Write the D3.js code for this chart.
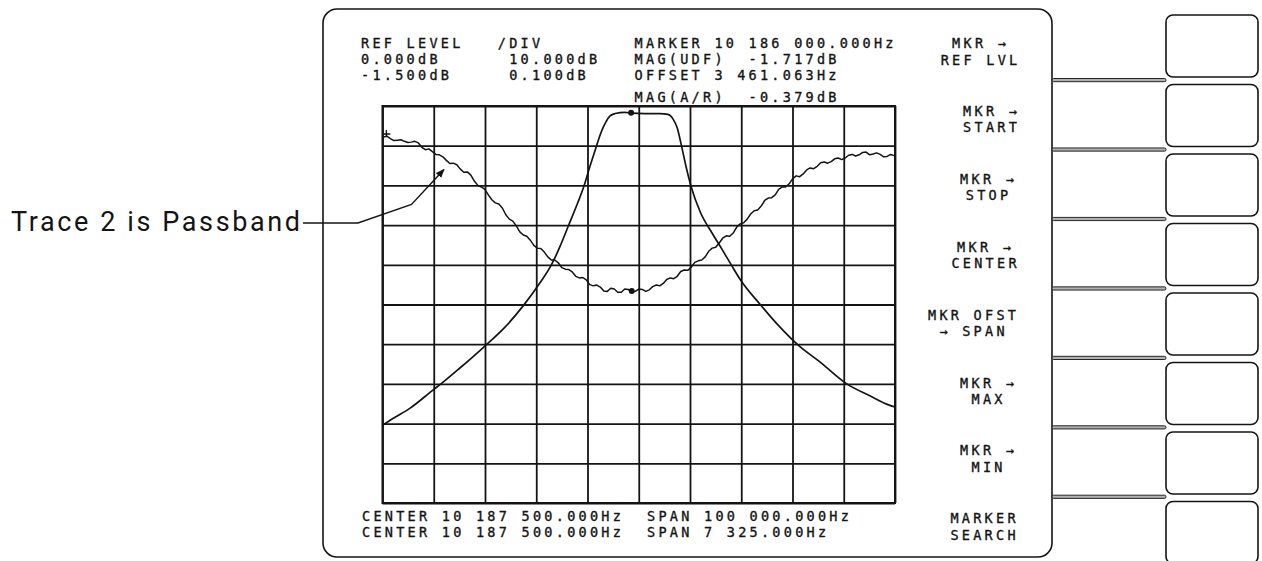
<!DOCTYPE html>
<html><head><meta charset="utf-8">
<script src="https://cdn.jsdelivr.net/npm/d3@7"></script>
<style>
html,body{margin:0;padding:0;background:#fff;}
svg{display:block;}
.mono{font-family:'DejaVu Sans Mono',monospace;font-size:13.5px;letter-spacing:3.27px;fill:#141414;stroke:#141414;stroke-width:0.35px;white-space:pre;}
</style>
</head><body>
<svg id="c" width="1262" height="561"></svg>
<script>
// ---------- DATA ----------
// Trace 1: wide sweep (center 10 187 500 Hz, span 100 kHz, ref 0 dB, 10 dB/div)
const trace1OffsetKHz = [-50.0,-47.8,-44.6,-40.1,-38.6,-34.9,-30.4,-26.1,-22.4,-19.3,-17.0,-15.4,-13.7,-12.0,-10.7,-9.5,-8.3,-7.4,-6.4,-5.6,-4.6,-2.7,-1.3,1.2,4.1,5.7,6.7,7.5,8.3,9.2,10.2,12.0,14.3,16.2,18.0,20.0,23.7,27.2,31.0,35.4,40.6,45.1,49.0,50.0];
const trace1MagDB = [-80.4,-78.6,-76.1,-71.5,-70.0,-66.0,-60.9,-55.7,-50.1,-44.6,-39.9,-35.5,-30.1,-24.7,-20.2,-15.1,-10.3,-6.8,-4.0,-2.5,-1.9,-1.6,-1.8,-1.9,-1.9,-2.1,-3.3,-5.5,-9.8,-15.1,-20.2,-26.7,-32.0,-36.0,-39.9,-44.1,-50.0,-55.2,-60.1,-64.5,-70.0,-73.0,-75.4,-75.8];
// Trace 2: passband (center 10 187 500 Hz, span 7 325 Hz, ref -1.5 dB, 0.1 dB/div)
const trace2OffsetHz = [-3650,-3600,-3550,-3500,-3450,-3400,-3350,-3300,-3250,-3200,-3150,-3100,-3050,-3000,-2950,-2900,-2850,-2800,-2750,-2700,-2650,-2600,-2550,-2500,-2450,-2400,-2350,-2300,-2250,-2200,-2150,-2100,-2050,-2000,-1950,-1900,-1850,-1800,-1750,-1700,-1650,-1600,-1550,-1500,-1450,-1400,-1350,-1300,-1250,-1200,-1150,-1100,-1050,-1000,-950,-900,-850,-800,-750,-700,-650,-600,-550,-500,-450,-400,-350,-300,-250,-200,-150,-100,-50,0,50,100,150,200,250,300,350,400,450,500,550,600,650,700,750,800,850,900,950,1000,1050,1100,1150,1200,1250,1300,1350,1400,1450,1500,1550,1600,1650,1700,1750,1800,1850,1900,1950,2000,2050,2100,2150,2200,2250,2300,2350,2400,2450,2500,2550,2600,2650,2700,2750,2800,2850,2900,2950,3000,3050,3100,3150,3200,3250,3300,3350,3400,3450,3500,3550,3600,3650];
const trace2MagDB = [-1.578,-1.576,-1.582,-1.587,-1.586,-1.585,-1.589,-1.592,-1.591,-1.589,-1.593,-1.604,-1.610,-1.608,-1.615,-1.622,-1.623,-1.628,-1.637,-1.645,-1.644,-1.648,-1.659,-1.667,-1.666,-1.674,-1.689,-1.700,-1.704,-1.710,-1.724,-1.736,-1.744,-1.747,-1.757,-1.774,-1.785,-1.790,-1.802,-1.817,-1.825,-1.828,-1.838,-1.851,-1.858,-1.859,-1.868,-1.880,-1.888,-1.888,-1.895,-1.907,-1.911,-1.912,-1.918,-1.929,-1.933,-1.932,-1.938,-1.950,-1.953,-1.951,-1.956,-1.966,-1.967,-1.959,-1.961,-1.969,-1.969,-1.961,-1.962,-1.970,-1.967,-1.961,-1.962,-1.967,-1.963,-1.955,-1.951,-1.953,-1.947,-1.937,-1.933,-1.935,-1.929,-1.917,-1.913,-1.914,-1.906,-1.894,-1.890,-1.888,-1.880,-1.866,-1.858,-1.856,-1.845,-1.833,-1.827,-1.828,-1.820,-1.805,-1.797,-1.794,-1.785,-1.772,-1.764,-1.762,-1.752,-1.738,-1.732,-1.731,-1.724,-1.710,-1.704,-1.704,-1.696,-1.683,-1.676,-1.678,-1.671,-1.661,-1.656,-1.658,-1.652,-1.643,-1.641,-1.644,-1.640,-1.633,-1.631,-1.635,-1.631,-1.624,-1.622,-1.626,-1.623,-1.617,-1.616,-1.623,-1.621,-1.618,-1.622,-1.628,-1.627,-1.622,-1.625];
const marker1 = [-1.5, -1.717];     // [kHz offset, dB]
const marker2 = [-100, -1.966];     // [Hz offset, dB]
const trace1Domain = {x:[-50,50], y:[-100,0]};
const trace2Domain = {x:[-3662.5,3662.5], y:[-2.5,-1.5]};
// header / footer text: [row, column, text]
const headerText = [
  [0,0,"REF LEVEL"],[0,12,"/DIV"],[0,24,"MARKER 10 186 000.000Hz"],
  [1,0,"0.000dB"],[1,13,"10.000dB"],[1,24,"MAG(UDF)  -1.717dB"],
  [2,0,"-1.500dB"],[2,13,"0.100dB"],[2,24,"OFFSET 3 461.063Hz"],
  [3,24,"MAG(A/R)  -0.379dB"]
];
const footerText = [
  [0,0,"CENTER 10 187 500.000Hz"],[0,25,"SPAN 100 000.000Hz"],
  [1,0,"CENTER 10 187 500.000Hz"],[1,25,"SPAN 7 325.000Hz"]
];
const softkeyLabels = [
  ["MKR \u2192","REF LVL"],["MKR \u2192","START"],["MKR \u2192","STOP"],["MKR \u2192","CENTER"],
  ["MKR OFST","\u2192 SPAN"],["MKR \u2192","MAX"],["MKR \u2192","MIN"],["MARKER","SEARCH"]
];
const annotationText = "Trace 2 is Passband";

// ---------- LAYOUT ----------
const svg = d3.select("#c");
const ink = "#141414";
const G = {x0:382.5, x1:895, y0:106, y1:503};
const charW = 11.4;
const headerX0 = 361, headerBase = [47.5, 63.5, 80, 102];
const footerX0 = 362, footerBase = [521, 537];
const softkeyCX = [979, 990, 987, 984, 972, 987, 987, 983];

// panel
svg.append("rect").attr("x",323).attr("y",9).attr("width",729).attr("height",548)
  .attr("rx",14).attr("fill","none").attr("stroke",ink).attr("stroke-width",1.6);

// softkey boxes and dividers
for (let i=0;i<8;i++){
  svg.append("rect").attr("x",1166).attr("y",15+69.5*i).attr("width",92).attr("height",62)
    .attr("rx",7).attr("fill","none").attr("stroke",ink).attr("stroke-width",1.6);
}
for (let i=0;i<7;i++){
  svg.append("rect").attr("x",1052).attr("y",78.5+69.45*i).attr("width",114).attr("height",3.2)
    .attr("rx",1.5).attr("fill","#b0b0b0").attr("stroke",ink).attr("stroke-width",0.9);
}

// scales
const x1 = d3.scaleLinear().domain(trace1Domain.x).range([G.x0,G.x1]);
const y1 = d3.scaleLinear().domain(trace1Domain.y).range([G.y1,G.y0]);
const x2 = d3.scaleLinear().domain(trace2Domain.x).range([G.x0,G.x1]);
const y2 = d3.scaleLinear().domain(trace2Domain.y).range([G.y1,G.y0]);

// graticule via axes (no labels)
const gridG = svg.append("g");
const vAxis = d3.axisBottom(x1).tickValues(d3.range(-50,50.01,10)).tickSize(-(G.y1-G.y0)).tickFormat("");
const hAxis = d3.axisLeft(y1).tickValues(d3.range(-100,0.01,10)).tickSize(-(G.x1-G.x0)).tickFormat("");
gridG.append("g").attr("transform",`translate(0,${G.y1})`).call(vAxis);
gridG.append("g").attr("transform",`translate(${G.x0},0)`).call(hAxis);
gridG.selectAll(".domain").remove();
gridG.selectAll(".tick line").attr("stroke",ink).attr("stroke-width",1.8);
gridG.append("rect").attr("x",G.x0).attr("y",G.y0).attr("width",G.x1-G.x0).attr("height",G.y1-G.y0)
  .attr("fill","none").attr("stroke",ink).attr("stroke-width",2);

// traces
const t1 = trace1OffsetKHz.map((f,i)=>[f,trace1MagDB[i]]);
const t2 = trace2OffsetHz.map((f,i)=>[f,trace2MagDB[i]]);
svg.append("path").attr("d", d3.line().x(d=>x1(d[0])).y(d=>y1(d[1])).curve(d3.curveMonotoneX)(t1))
  .attr("fill","none").attr("stroke",ink).attr("stroke-width",1.7);
svg.append("path").attr("d", d3.line().x(d=>x2(d[0])).y(d=>y2(d[1]))(t2))
  .attr("fill","none").attr("stroke",ink).attr("stroke-width",1.5).attr("stroke-linejoin","round");
svg.append("circle").attr("cx",x1(marker1[0])).attr("cy",y1(marker1[1])).attr("r",3).attr("fill",ink);
svg.append("circle").attr("cx",x2(marker2[0])).attr("cy",y2(marker2[1])).attr("r",3).attr("fill",ink);
// reference tick at trace 2 start
const sx = x2(t2[0][0]), sy = y2(t2[0][1]);
svg.append("path").attr("d",`M${sx+3},${sy-7}V${sy}M${sx},${sy-3}H${sx+7}`)
  .attr("stroke",ink).attr("stroke-width",1.4).attr("fill","none");

// header & footer text
svg.append("g").selectAll("text").data(headerText).join("text").attr("class","mono")
  .attr("x",d=>headerX0+d[1]*charW).attr("y",d=>headerBase[d[0]]).text(d=>d[2]);
svg.append("g").selectAll("text").data(footerText).join("text").attr("class","mono")
  .attr("x",d=>footerX0+d[1]*charW).attr("y",d=>footerBase[d[0]]).text(d=>d[2]);

// softkey labels
softkeyLabels.forEach((lab,i)=>{
  lab.forEach((s,j)=>{
    svg.append("text").attr("class","mono").attr("text-anchor","middle")
      .attr("x",softkeyCX[i]+1.6).attr("y",48+67.9*i+16.5*j).text(s);
  });
});

// annotation
svg.append("defs").append("marker").attr("id","ah").attr("viewBox","0 0 10 10").attr("refX",9).attr("refY",5)
  .attr("markerWidth",9).attr("markerHeight",9).attr("markerUnits","userSpaceOnUse").attr("orient","auto")
  .append("path").attr("d","M0,1L10,5L0,9Z").attr("fill",ink);
svg.append("path").attr("d","M303,223H358L411.5,204.5L444,169.5")
  .attr("fill","none").attr("stroke",ink).attr("stroke-width",1.4).attr("marker-end","url(#ah)");
svg.append("text").attr("x",11).attr("y",231).attr("textLength",289).attr("lengthAdjust","spacing")
  .style("font-family","Roboto, 'DejaVu Sans', sans-serif").style("font-weight",400).style("font-size","27px")
  .attr("fill",ink).text(annotationText);
</script>
</body></html>
